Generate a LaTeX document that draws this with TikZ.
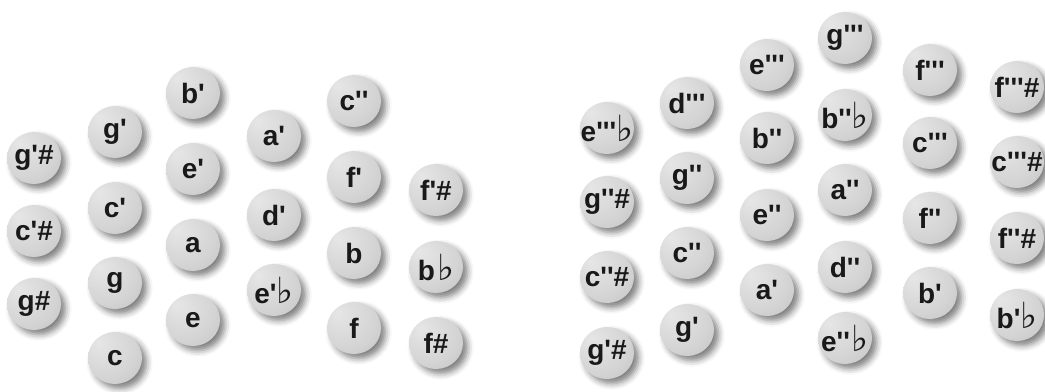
\documentclass[tikz,border=0pt]{standalone}
\usepackage{fontspec}
\usetikzlibrary{shapes.geometric,shadows.blur}

\newfontfamily\btnfont[Ligatures=TeXOff]{Liberation Sans}
\newfontfamily\flatfont{DejaVu Sans}
\newcommand{\flt}{{\flatfont\mdseries\fontsize{27}{27}\selectfont ♭}}

\definecolor{btnlight}{RGB}{230,230,230}
\definecolor{btnmid}{RGB}{212,212,212}
\definecolor{btndark}{RGB}{192,192,192}
\definecolor{btnrim}{RGB}{140,140,140}
\pgfdeclareradialshading{btnshade}{\pgfpoint{-15bp}{15bp}}{color(0bp)=(btnlight); color(28bp)=(btnmid); color(48bp)=(btndark); color(68bp)=(btnrim)}

\tikzset{every picture/.style={line width=0.75pt}}
\tikzset{
  btnlbl/.style={font=\btnfont\bfseries\fontsize{21}{21}\selectfont, text=black!90, inner sep=0pt},
  btn/.style={ellipse, minimum width=40.5pt, minimum height=39pt, inner sep=0pt, shading=btnshade,
    blur shadow={shadow xshift=3.5pt, shadow yshift=-3.5pt, shadow blur radius=4.5pt, shadow opacity=50},
    label={[btnlbl]center:#1}},
}

\begin{document}
\begin{tikzpicture}[x=0.75pt,y=0.75pt,yscale=-1,xscale=1]
\useasboundingbox (0,0) rectangle (1045,392); %set diagram to 1045 x 392

%Left field, row 1
\node[btn={g'\#}] (lgis1) at (34,158) {};
\node[btn={c'\#}] (lcis1) at (34,231) {};
\node[btn={g\#}] (lgis) at (34,304) {};
%Left field, row 2
\node[btn={g'}] (lg1) at (115,132) {};
\node[btn={c'}] (lc1) at (115,208) {};
\node[btn={g}] (lg) at (115,283) {};
\node[btn={c}] (lc) at (115,358) {};
%Left field, row 3
\node[btn={b'}] (lb1) at (193,93) {};
\node[btn={e'}] (le1) at (193,169) {};
\node[btn={a}] (la) at (193,245) {};
\node[btn={e}] (le) at (193,320) {};
%Left field, row 4
\node[btn={a'}] (la1) at (274,136) {};
\node[btn={d'}] (ld1) at (274,215) {};
\node[btn={e'\flt}] (les1) at (274,290) {};
%Left field, row 5
\node[btn={c''}] (lc2) at (354,101) {};
\node[btn={f'}] (lf1) at (354,177) {};
\node[btn={b}] (lb) at (354,253) {};
\node[btn={f}] (lf) at (354,328) {};
%Left field, row 6
\node[btn={f'\#}] (lfis1) at (436,190) {};
\node[btn={b\kern1.5pt\flt}] (lbes) at (436,267) {};
\node[btn={f\#}] (lfis) at (436,343) {};

%Right field, row 1
\node[btn={e'''\flt}] (res3) at (607,128) {};
\node[btn={g''\#}] (rgis2) at (607,202) {};
\node[btn={c''\#}] (rcis2) at (607,277) {};
\node[btn={g'\#}] (rgis1) at (607,353) {};
%Right field, row 2
\node[btn={d'''}] (rd3) at (687,103) {};
\node[btn={g''}] (rg2) at (687,178) {};
\node[btn={c''}] (rc2) at (687,253) {};
\node[btn={g'}] (rg1) at (687,330) {};
%Right field, row 3
\node[btn={e'''}] (re3) at (767,65) {};
\node[btn={b''}] (rb2) at (767,138) {};
\node[btn={e''}] (re2) at (767,215) {};
\node[btn={a'}] (ra1) at (767,290) {};
%Right field, row 4
\node[btn={g'''}] (rg3) at (845,38) {};
\node[btn={b''\flt}] (rbes2) at (845,115) {};
\node[btn={a''}] (ra2) at (845,190) {};
\node[btn={d''}] (rd2) at (845,267) {};
\node[btn={e''\kern1.5pt\flt}] (res2) at (845,338) {};
%Right field, row 5
\node[btn={f'''}] (rf3) at (930,70) {};
\node[btn={c'''}] (rc3) at (930,143) {};
\node[btn={f''}] (rf2) at (930,218) {};
\node[btn={b'}] (rb1) at (930,293) {};
%Right field, row 6
\node[btn={f'''\#}] (rfis3) at (1017,87) {};
\node[btn={c'''\#}] (rcis3) at (1017,162) {};
\node[btn={f''\#}] (rfis2) at (1017,238) {};
\node[btn={b'\flt}] (rbes1) at (1017,315) {};

\end{tikzpicture}
\end{document}
